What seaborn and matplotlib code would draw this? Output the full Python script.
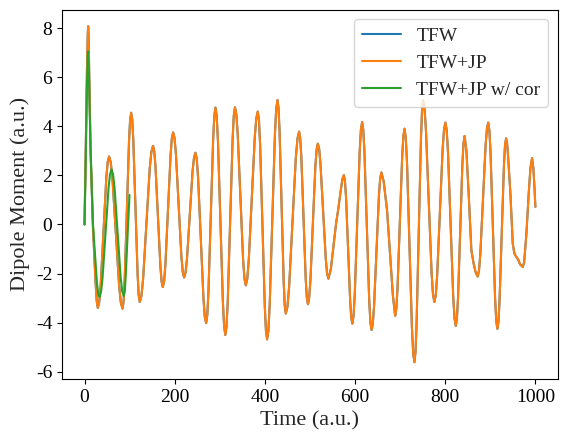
import pandas as pd
import seaborn as sns
import matplotlib
matplotlib.use('Agg')
import matplotlib.pyplot as plt

# (time, dipole moment)
points_jp = [
    (0, 0.00), (2.7, 3.00), (5.4, 6.30), (7.3, 7.80), (8.1, 8.07), (9.0, 7.70),
    (13.3, 3.10), (18.5, 0.00), (24.4, -2.34), (27.3, -3.15), (29.5, -3.40),
    (32.6, -3.17), (35.75, -2.50), (42.0, -0.32), (48.25, 1.87), (51.4, 2.54), (54.5, 2.77),
    (58.2, 2.53), (61.95, 1.86), (69.4, -0.33), (76.85, -2.52), (80.6, -3.19), (84.3, -3.43),
    (86.7, -3.13), (89.1, -2.26), (93.9, 0.56), (98.7, 3.38), (101.1, 4.25), (103.5, 4.55),
    (105.9, 4.26), (108.25, 3.42), (113.0, 0.70), (117.75, -2.03), (120.1, -2.87), (122.5, -3.16),
    (126.2, -2.92), (129.9, -2.23), (137.25, 0.02), (144.6, 2.27), (148.3, 2.96), (152.0, 3.20),
    (154.7, 2.98), (157.4, 2.36), (162.85, 0.33), (168.3, -1.71), (171.0, -2.33), (173.7, -2.55),
    (176.6, -2.31), (179.4, -1.63), (185.15, 0.60), (190.9, 2.83), (193.7, 3.51), (196.6, 3.75),
    (199.6, 3.53), (202.7, 2.88), (208.75, 0.80), (214.8, -1.29), (217.9, -1.94), (220.9, -2.16),
    (224.0, -1.97), (227.2, -1.42), (233.45, 0.38), (239.7, 2.18), (242.9, 2.73), (246.0, 2.92),
    (249.0, 2.66), (251.9, 1.90), (257.85, -0.55), (263.8, -3.00), (266.7, -3.76), (269.7, -4.02),
    (272.3, -3.69), (274.9, -2.73), (280.1, 0.37), (285.3, 3.47), (287.9, 4.43), (290.5, 4.76),
    (293.2, 4.41), (295.95, 3.40), (301.4, 0.13), (306.85, -3.14), (309.6, -4.15), (312.3, -4.50),
    (315.0, -4.15), (317.65, -3.14), (323.0, 0.14), (328.35, 3.41), (331.0, 4.42), (333.7, 4.77),
    (336.7, 4.49), (339.7, 3.71), (345.7, 1.15), (351.7, -1.42), (354.7, -2.20), (357.7, -2.48),
    (361.0, -2.21), (364.35, -1.44), (371.0, 1.06), (377.65, 3.56), (381.0, 4.33), (384.3, 4.60),
    (386.9, 4.25), (389.5, 3.24), (394.65, -0.04), (399.8, -3.32), (402.4, -4.33), (405.0, -4.68),
    (407.9, -4.31), (410.75, -3.25), (416.5, 0.20), (422.25, 3.64), (425.1, 4.70), (428.0, 5.07),
    (430.3, 4.74), (432.6, 3.80), (437.2, 0.72), (441.8, -2.36), (444.1, -3.30), (446.4, -3.63),
    (450.1, -3.35), (453.8, -2.54), (461.2, 0.08), (468.6, 2.69), (472.3, 3.50), (476.0, 3.78),
    (478.4, 3.51), (480.9, 2.75), (485.75, 0.27), (490.6, -2.22), (493.1, -2.98), (495.5, -3.25),
    (498.2, -3.00), (501.0, -2.29), (506.45, 0.02), (511.9, 2.33), (514.7, 3.04), (517.4, 3.29),
    (520.4, 3.08), (523.3, 2.48), (529.2, 0.54), (535.1, -1.40), (538.0, -2.00), (541.0, -2.21),
    (546.5, -1.80), (552.8, -0.80), (558.0, 0.05), (563.0, 0.65), (568.0, 1.35), (572.0, 1.85),
    (575.3, 2.01),
    (577.6, 1.78), (580.0, 1.12), (584.65, -1.02), (589.3, -3.15), (591.7, -3.81), (594.0, -4.04),
    (596.7, -3.73), (599.4, -2.84), (604.85, 0.07), (610.3, 2.97), (613.0, 3.86), (615.7, 4.17),
    (618.3, 3.85), (620.9, 2.93), (626.15, -0.07), (631.4, -3.06), (634.0, -3.98), (636.6, -4.30),
    (639.3, -4.06), (642.1, -3.36), (647.55, -1.09), (653.0, 1.18), (655.8, 1.88), (658.5, 2.12),
    (663.5, 1.75), (671.0, 0.58), (678.5, -1.46), (684.0, -2.90), (689.0, -3.72),
    (691.6, -3.43), (694.2, -2.60), (699.4, 0.09), (704.6, 2.78), (707.2, 3.61), (709.8, 3.90),
    (712.5, 3.54), (715.3, 2.51), (720.75, -0.86), (726.2, -4.22), (729.0, -5.25), (731.7, -5.61),
    (734.1, -5.20), (736.5, -4.05), (741.35, -0.28), (746.2, 3.49), (748.6, 4.65), (751.0, 5.05),
    (754.1, 4.74), (757.25, 3.85), (763.5, 0.95), (769.75, -1.96), (772.9, -2.85), (776.0, -3.16),
    (779.1, -2.88), (782.1, -2.09), (788.2, 0.50), (794.3, 3.08), (797.4, 3.87), (800.4, 4.15),
    (803.3, 3.84), (806.2, 2.94), (811.95, 0.01), (817.7, -2.92), (820.6, -3.82), (823.5, -4.13),
    (825.9, -3.84), (828.4, -3.00), (833.25, -0.27), (838.1, 2.47), (840.6, 3.31), (843.0, 3.60),
    (847.0, 3.00), (852.0, 1.26), (855.0, 0.10), (858.0, -1.05), (863.0, -1.59), (867.5, -1.95),
    (872.0, -2.12),
    (874.9, -1.88), (877.9, -1.20), (883.75, 1.02), (889.6, 3.23), (892.6, 3.91), (895.5, 4.15),
    (898.0, 3.83), (900.55, 2.92), (905.6, -0.05), (910.65, -3.02), (913.2, -3.93), (915.7, -4.25),
    (918.1, -3.96), (920.5, -3.11), (925.35, -0.37), (930.2, 2.37), (932.6, 3.22), (935.0, 3.51),
    (937.0, 3.36), (939.0, 2.90), (944.6, 1.26), (949.8, -0.78), (953.4, -1.18), (957.0, -1.30),
    (961.6, -1.42), (966.0, -1.62), (971.9, -1.73),
    (975.0, -1.55), (980.0, -0.40), (985.0, 1.20), (989.0, 2.30), (992.6, 2.70), (995.5, 2.30),
    (998.0, 1.50), (1000.0, 0.72),
]
time_jp = [p[0] for p in points_jp]
dip_jp = [p[1] for p in points_jp]

# TFW sits exactly under TFW+JP in the picture
time_tfw = time_jp
dip_tfw = dip_jp

points_cor = [
    (0, 0.00), (2.7, 2.60), (5.4, 5.60), (7.0, 6.80), (8.1, 7.05), (9.0, 6.70),
    (13.5, 3.00), (18.8, 0.00), (27.4, -2.34), (30.5, -2.85), (33.3, -2.95),
    (36.6, -2.75), (39.95, -2.19), (46.6, -0.36), (53.25, 1.48), (56.6, 2.04), (59.9, 2.24),
    (63.3, 2.04), (66.7, 1.48), (73.45, -0.34), (80.2, -2.16), (83.6, -2.72), (87.0, -2.92),
    (89.3, -2.72), (91.5, -2.10), (95.5, -0.45), (99.8, 1.20),
]
time_cor = [p[0] for p in points_cor]
dip_cor = [p[1] for p in points_cor]

sns.set_style('ticks')
plt.rcParams['font.family'] = ['Liberation Serif', 'DejaVu Serif']
plt.rcParams['axes.unicode_minus'] = False
plt.rcParams['axes.edgecolor'] = 'black'
plt.rcParams['xtick.color'] = 'black'
plt.rcParams['ytick.color'] = 'black'

f, ax = plt.subplots(figsize=(5.67, 4.42), dpi=100)
f.subplots_adjust(left=0.1093, right=0.984, top=0.9785, bottom=0.1425)

df_tfw = pd.DataFrame({'t': time_tfw, 'd': dip_tfw})
df_jp = pd.DataFrame({'t': time_jp, 'd': dip_jp})
df_cor = pd.DataFrame({'t': time_cor, 'd': dip_cor})

sns.lineplot(x='t', y='d', data=df_tfw, ax=ax, color='tab:blue',
             linewidth=1.5, label='TFW', estimator=None, sort=False)
sns.lineplot(x='t', y='d', data=df_jp, ax=ax, color='tab:orange',
             linewidth=1.5, label='TFW+JP', estimator=None, sort=False)
sns.lineplot(x='t', y='d', data=df_cor, ax=ax, color='tab:green',
             linewidth=1.5, label='TFW+JP w/ cor', estimator=None, sort=False)

ax.set_xticks([0, 200, 400, 600, 800, 1000])
ax.set_yticks([-6, -4, -2, 0, 2, 4, 6, 8])
ax.tick_params(labelsize=14)
ax.set_xlabel('Time (a.u.)', fontsize=16)
ax.set_ylabel('Dipole Moment (a.u.)', fontsize=16)
ax.legend(loc='upper right', frameon=True, fontsize=14)

f.savefig('out.png', dpi=100)
